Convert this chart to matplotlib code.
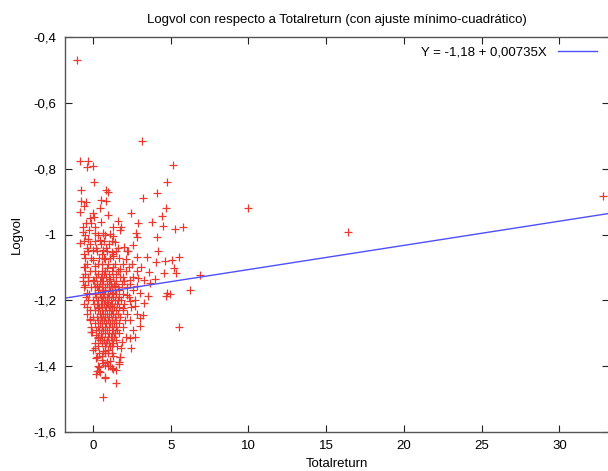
import numpy as np
import matplotlib
matplotlib.use("Agg")
import matplotlib.pyplot as plt
from matplotlib.ticker import FuncFormatter

plt.rcParams['font.family'] = ['Liberation Sans', 'DejaVu Sans']

# scattered points (Totalreturn, Logvol)
sparse_x = [-1.03, 3.16, -0.84, -0.32, -0.39, 0.0, 5.16, 0.06, 4.75, -0.77, 0.84, 0.97,
            4.1, 3.2, -0.77, -0.45, 0.52, 0.84, -0.58, 0.43, 4.7, -0.84, 0.0, 0.97, 2.45,
            10.0, 16.4, 32.8, -0.21, 0.06, 1.61, 0.52, -0.45, -0.13, 0.1, 1.29, 1.8, -0.65,
            4.43, 3.8, 4.5, 5.3, 5.8, 2.9,
            -0.66, -0.26, 0.13, 0.63, 1.10, 1.74, 1.31, 2.77, 2.86, 4.11, -0.84, -0.30,
            0.45, 1.42, 2.6, -0.41, 0.02, 0.63, 1.21, 2.0, 2.28, 4.17, -0.52, 0.02, 0.77,
            1.31, 2.13, 2.82, 3.5, 4.06, 4.6, 5.08, 5.5, -0.58, 0.13, 0.88, 1.27, 1.74,
            2.34, 3.08, 3.63, 4.58, 5.18, 5.35, 6.86, -0.63, -0.30, 0.02, 0.56, 1.10, 1.95,
            2.39, 2.92, 3.29, 4.0, -0.52, 0.24, 1.42, 2.82, 3.68, 6.21, 4.75, 4.71, 4.97,
            -0.41, 0.66, 1.31, 2.17, 3.03, 3.57, 0.02, 0.88, 1.63, 2.39, 3.25, -0.41, 0.34,
            1.10, 1.95, 2.71, 3.2, 2.86, 3.03, 2.56, 2.39, -0.19, -0.08, 0.19, 1.85, 2.43,
            0.13, 0.02, 0.66, 1.21, 1.74, 0.24, 0.56, 0.63, 0.88, 1.10, 1.7, 0.99, 1.21,
            1.31, 0.41, 0.28, 0.41, 1.48, 0.77, 1.46, 0.66, 5.5, 1.83, 3.01, 2.69, 2.37,
            -0.21, -0.11, 0.32, 0.11, 0.21, 0.75, 0.97, 1.72, 0.75, 1.08, 1.68, 0.32, 0.43,
            0.21, 0.79]
sparse_y = [-0.47, -0.716, -0.778, -0.776, -0.795, -0.792, -0.79, -0.84, -0.841, -0.864,
            -0.864, -0.872, -0.873, -0.889, -0.897, -0.90, -0.895, -0.897, -0.913, -0.919,
            -0.919, -0.933, -0.935, -0.94, -0.934, -0.919, -0.992, -0.883, -0.95, -0.946,
            -0.958, -0.961, -0.965, -0.965, -0.977, -0.977, -0.977, -0.977, -0.945, -0.963,
            -0.974, -0.983, -0.976, -0.965,
            -0.991, -0.986, -0.995, -0.995, -0.998, -0.986, -1.006, -0.994, -1.008, -1.008,
            -1.025, -1.014, -1.018, -1.024, -1.031, -1.041, -1.046, -1.046, -1.052, -1.037,
            -1.049, -1.05, -1.072, -1.077, -1.075, -1.065, -1.075, -1.067, -1.069, -1.085,
            -1.082, -1.077, -1.067, -1.099, -1.095, -1.102, -1.099, -1.105, -1.099, -1.099,
            -1.113, -1.116, -1.102, -1.118, -1.123, -1.128, -1.129, -1.137, -1.128, -1.135,
            -1.128, -1.137, -1.132, -1.137, -1.135, -1.153, -1.156, -1.156, -1.156, -1.146,
            -1.17, -1.178, -1.186, -1.18, -1.178, -1.168, -1.178, -1.183, -1.178, -1.188,
            -1.2, -1.206, -1.198, -1.203, -1.208, -1.22, -1.223, -1.218, -1.223, -1.218,
            -1.244, -1.241, -1.277, -1.291, -1.259, -1.259, -1.297, -1.304, -1.328, -1.345,
            -1.33, -1.35, -1.355, -1.36, -1.372, -1.372, -1.38, -1.39, -1.388, -1.385,
            -1.388, -1.398, -1.405, -1.41, -1.402, -1.415, -1.415, -1.412, -1.435, -1.452,
            -1.493, -1.28, -1.345, -1.255, -1.31, -1.315, -1.256, -1.296, -1.314, -1.345,
            -1.375, -1.355, -1.35, -1.373, -1.396, -1.401, -1.393, -1.401, -1.418, -1.424,
            -1.434]

# dense core of the cloud, row by row (Logvol level: Totalreturn values)
core_rows = {
    -1.00: [-0.5, 0.3, 0.8],
    -1.02: [-0.6, 0.1, 0.7, 1.2],
    -1.03: [-0.2, 0.5, 1.0],
    -1.04: [0.2, 0.85, 1.6],
    -1.05: [-0.3, 0.25, 0.9, 1.5, 2.2],
    -1.06: [-0.6, 0.6, 1.3],
    -1.07: [-0.1, 0.4, 0.7, 1.1, 1.7],
    -1.09: [-0.4, 0.3, 0.55, 0.95, 1.4, 1.9, 2.5],
    -1.10: [-0.5],
    -1.11: [-0.2, 0.1, 0.6, 0.8, 1.2, 1.6, 2.1, 2.8],
    -1.12: [-0.5, 0.35, 0.7, 1.0, 1.45],
    -1.13: [0.2, 0.5, 0.85, 1.3, 1.75, 2.6],
    -1.14: [-0.65, -0.3, 0.05, 0.45, 0.65, 1.05, 1.5, 2.0],
    -1.15: [0.25, 0.55, 0.9, 1.15, 1.35, 1.85, 2.4],
    -1.16: [-0.55, -0.15, 0.15, 0.4, 0.75, 1.0, 1.25, 1.6, 2.2],
    -1.17: [0.3, 0.6, 0.8, 1.1, 1.4, 1.7, 2.6],
    -1.18: [-0.25, 0.1, 0.45, 0.7, 0.95, 1.2, 1.5, 1.9],
    -1.19: [-0.45, 0.2, 0.5, 0.65, 0.9, 1.05, 1.3, 1.65, 2.3],
    -1.20: [-0.35, 0.35, 0.6, 0.8, 1.15, 1.4, 1.8, 2.7],
    -1.21: [-0.6, 0.05, 0.25, 0.5, 0.7, 0.95, 1.25, 1.55, 2.0],
    -1.22: [0.4, 0.6, 0.85, 1.1, 1.35, 1.7, 2.45],
    -1.23: [-0.2, 0.15, 0.3, 0.55, 0.75, 1.0, 1.2, 1.45, 1.9],
    -1.24: [-0.4, 0.45, 0.65, 0.9, 1.15, 1.3, 1.6, 2.2],
    -1.25: [0.0, 0.25, 0.5, 0.8, 1.05, 1.4, 1.75],
    -1.26: [0.35, 0.6, 0.7, 0.95, 1.25, 1.5, 2.05],
    -1.27: [0.15, 0.45, 0.85, 1.1, 1.35, 1.65],
    -1.28: [-0.1, 0.3, 0.55, 0.75, 1.0, 1.2, 1.45, 1.9],
    -1.29: [0.2, 0.4, 0.65, 0.9, 1.3, 1.55],
    -1.30: [0.5, 0.8, 1.05, 1.25, 1.4, 1.7],
    -1.31: [0.3, 0.6, 0.95, 1.15, 1.35, 2.1],
    -1.32: [0.45, 0.7, 0.9, 1.2, 1.45],
    -1.33: [0.55, 0.85, 1.0, 1.3],
    -1.34: [0.35, 0.75, 1.1, 1.25, 1.55],
    -1.36: [0.4, 0.8, 0.95],
    -1.37: [0.6, 1.3],
}

intercept = -1.18
slope = 0.00735
legend_label = "Y = -1,18 + 0,00735X"
x_ticks = [0, 5, 10, 15, 20, 25, 30]
y_ticks = [-1.6, -1.4, -1.2, -1.0, -0.8, -0.6, -0.4]

xs = list(sparse_x)
ys = list(sparse_y)
for yv, row in core_rows.items():
    xs += row
    ys += [yv] * len(row)

fig = plt.figure(figsize=(6.08, 4.71), dpi=100)
ax = fig.add_axes([65 / 608, 39 / 471, 1.0 - 65 / 608 + 0.002, 395 / 471])

ax.plot(xs, ys, '+', color='#e83a30', markersize=6, mew=0.9, linestyle='none')

xmin, xmax = -1.8, 33.2
lx = np.array([xmin, xmax])
ax.plot(lx, intercept + slope * lx, color='#4f4fff', lw=1.0, label=legend_label)

ax.set_xlim(xmin, xmax)
ax.set_ylim(-1.6, -0.4)
ax.set_xticks(x_ticks)
ax.set_yticks(y_ticks)

comma = FuncFormatter(lambda v, p: ('%g' % round(v, 3)).replace('.', ','))
ax.xaxis.set_major_formatter(comma)
ax.yaxis.set_major_formatter(comma)

ax.tick_params(direction='in', length=5, width=0.8, labelsize=9.5, top=True, right=True,
               color='#222222', pad=6)
for s in ax.spines.values():
    s.set_color('#555555')
    s.set_linewidth(1.0)

ax.set_title("Logvol con respecto a Totalreturn (con ajuste mínimo-cuadrático)",
             fontsize=9.5, pad=10)
ax.set_xlabel("Totalreturn", fontsize=9.5, labelpad=4)
ax.set_ylabel("Logvol", fontsize=9.5, labelpad=8)

leg = ax.legend(loc='upper right', frameon=False, markerfirst=False, fontsize=9.5,
                handlelength=3.0, handletextpad=0.8, borderaxespad=0.3,
                bbox_to_anchor=(0.995, 1.0))

fig.savefig("out.png", dpi=100)
